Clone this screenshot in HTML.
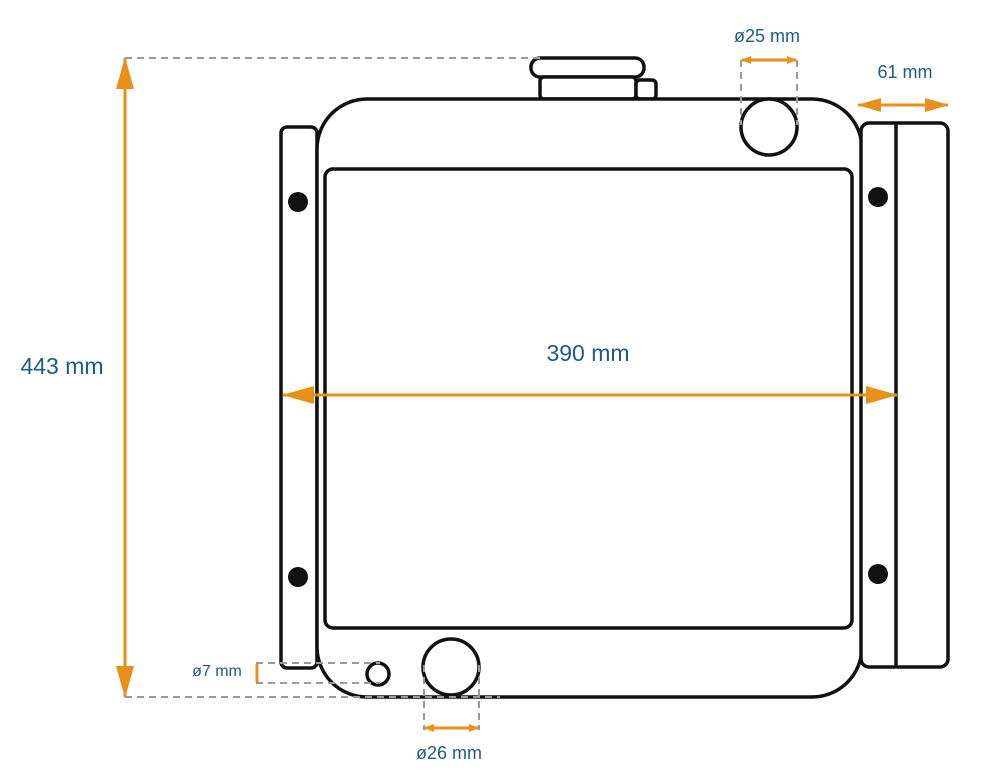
<!DOCTYPE html>
<html><head><meta charset="utf-8"><style>
html,body{margin:0;padding:0;background:#fff;}
svg{display:block;}
text{font-family:"Liberation Sans",sans-serif;fill:#1d5b8c;}
</style></head><body>
<svg width="1005" height="784" viewBox="0 0 1005 784" xmlns="http://www.w3.org/2000/svg">
<defs>
<marker id="ah" markerWidth="10" markerHeight="8" refX="9" refY="4" orient="auto-start-reverse" markerUnits="userSpaceOnUse" viewBox="0 0 10 8"><path d="M0,0 L10,4 L0,8 z" fill="#e8901a"/></marker>
<marker id="ahb" markerWidth="32" markerHeight="18" refX="31" refY="9" orient="auto-start-reverse" markerUnits="userSpaceOnUse"><path d="M0,0 L32,9 L0,18 z" fill="#e8901a"/></marker>
<marker id="ahm" markerWidth="24" markerHeight="14" refX="23" refY="7" orient="auto-start-reverse" markerUnits="userSpaceOnUse"><path d="M0,0 L24,7 L0,14 z" fill="#e8901a"/></marker>
</defs>
<g fill="#fff" stroke="#111" stroke-width="3.5">
<rect x="531" y="58" width="113" height="19" rx="9"/>
<rect x="540" y="77" width="96" height="22" rx="4"/>
<rect x="636" y="80" width="20" height="19" rx="4"/>
<rect x="281" y="127" width="36" height="541" rx="6"/>
<rect x="317" y="99" width="545" height="598" rx="50"/>
<rect x="325" y="169" width="527" height="459" rx="8"/>
<rect x="861" y="123" width="87" height="544" rx="8"/>
<line x1="896" y1="123" x2="896" y2="667"/>
<circle cx="769" cy="127" r="28"/>
<circle cx="451" cy="667" r="28"/>
<circle cx="378" cy="674" r="11"/>
</g>
<g fill="#111"><circle cx="298" cy="202" r="10"/><circle cx="298" cy="577" r="10"/><circle cx="878" cy="197" r="10"/><circle cx="878" cy="574" r="10"/></g>
<g fill="none" stroke="#999" stroke-width="2" stroke-dasharray="7,5">
<line x1="125" y1="58" x2="540" y2="58"/>
<line x1="125" y1="697" x2="500" y2="697"/>
<line x1="741" y1="60" x2="741" y2="125"/>
<line x1="797" y1="60" x2="797" y2="125"/>
<line x1="424" y1="665" x2="424" y2="730"/>
<line x1="479" y1="665" x2="479" y2="730"/>
<line x1="256" y1="663" x2="380" y2="663"/>
<line x1="256" y1="683" x2="380" y2="683"/>
</g>
<g stroke="#e8901a" stroke-width="3" fill="none">
<line x1="125" y1="58" x2="125" y2="697" marker-start="url(#ahb)" marker-end="url(#ahb)"/>
<line x1="283" y1="395" x2="897" y2="395" marker-start="url(#ahb)" marker-end="url(#ahb)"/>
<line x1="858" y1="105" x2="948" y2="105" marker-start="url(#ahm)" marker-end="url(#ahm)"/>
<line x1="742" y1="60" x2="796" y2="60" marker-start="url(#ah)" marker-end="url(#ah)"/>
<line x1="425" y1="728" x2="478" y2="728" marker-start="url(#ah)" marker-end="url(#ah)"/>
<line x1="257" y1="664" x2="257" y2="682"/>
</g>
<text x="62" y="374" font-size="23" text-anchor="middle">443 mm</text>
<text x="588" y="361" font-size="23" text-anchor="middle">390 mm</text>
<text x="767" y="42" font-size="18" text-anchor="middle">ø25 mm</text>
<text x="905" y="78" font-size="18" text-anchor="middle">61 mm</text>
<text x="217" y="676" font-size="16" text-anchor="middle">ø7 mm</text>
<text x="449" y="759" font-size="18" text-anchor="middle">ø26 mm</text>
</svg>
</body></html>
